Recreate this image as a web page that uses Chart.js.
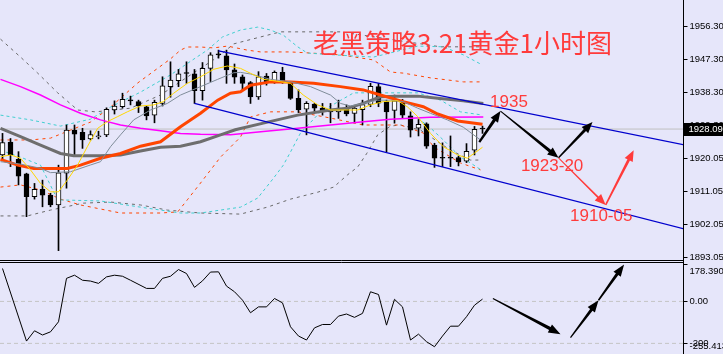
<!DOCTYPE html>
<html>
<head>
<meta charset="utf-8">
<script src="https://cdn.jsdelivr.net/npm/chart.js@4.4.1/dist/chart.umd.min.js"></script>
<style>
html, body { margin: 0; padding: 0; background: #E6E6FA; overflow: hidden; }
#wrap { position: relative; width: 723px; height: 354px; }
canvas { position: absolute; left: 0; display: block; }
#main { top: 0; }
#sub { top: 261px; }
</style>
</head>
<body>
<div id="wrap">
  <canvas id="main" width="723" height="261"></canvas>
  <canvas id="sub" width="723" height="94"></canvas>
</div>
<script>
// candles, one per hour, index 0..60
const opens  = [1921.0,1924.5,1919.8,1915.8,1909.6,1911.6,1910.0,1907.3,1916.0,1927.8,
                1927.2,1925.4,1925.9,1926.5,1933.3,1934.2,1935.8,1935.6,1934.2,1931.9,
                1935.1,1939.7,1941.3,1943.3,1943.2,1938.6,1944.7,1948.4,1948.1,1944.3,
                1942.4,1940.8,1936.9,1942.6,1940.8,1943.6,1940.8,1936.5,1933.5,1934.9,
                1933.8,1932.8,1932.8,1933.8,1932.4,1933.4,1934.8,1939.7,1935.6,1933.2,
                1935.6,1931.7,1928.3,1929.5,1923.7,1920.1,1920.1,1920.3,1919.3,1922.3,
                1928.09];
const highs  = [1926.9,1925.5,1921.9,1916.0,1913.2,1914.1,1910.5,1918.2,1929.2,1929.2,
                1928.3,1927.6,1927.5,1933.9,1935.8,1937.9,1937.1,1936.0,1934.4,1936.0,
                1942.4,1946.5,1944.4,1946.5,1944.4,1946.3,1949.0,1949.7,1949.7,1945.9,
                1942.9,1941.1,1943.8,1943.3,1944.0,1945.0,1941.1,1938.8,1935.6,1935.1,
                1935.1,1935.1,1936.0,1934.7,1934.4,1936.0,1940.6,1940.6,1936.0,1937.4,
                1936.2,1932.8,1930.7,1929.8,1924.2,1924.3,1926.2,1920.7,1924.1,1928.8,
                1928.9];
const lows   = [1919.9,1917.8,1912.8,1904.1,1908.9,1906.8,1906.8,1894.8,1911.9,1921.0,
                1922.8,1925.1,1925.4,1926.0,1932.2,1933.8,1934.7,1932.6,1930.6,1929.8,
                1934.4,1936.8,1939.7,1940.6,1935.1,1936.0,1941.1,1947.5,1940.6,1940.6,
                1938.8,1935.1,1936.2,1940.1,1940.6,1940.6,1936.2,1932.6,1926.5,1932.6,
                1931.9,1929.8,1931.0,1931.7,1929.8,1929.2,1934.2,1934.2,1921.9,1929.7,
                1931.0,1925.9,1926.2,1922.8,1917.6,1917.8,1917.8,1918.0,1918.9,1921.0,
                1926.9];
const closes = [1924.4,1921.0,1915.2,1909.6,1911.6,1910.0,1907.3,1916.1,1927.8,1926.7,
                1925.1,1926.6,1926.2,1933.5,1934.4,1936.2,1935.8,1934.4,1931.7,1935.4,
                1939.9,1941.5,1943.2,1943.3,1938.6,1944.7,1948.4,1948.4,1944.3,1942.3,
                1940.6,1936.9,1942.4,1940.8,1943.6,1941.1,1936.5,1933.3,1935.1,1933.8,
                1932.8,1932.8,1933.8,1932.2,1933.8,1934.8,1939.8,1935.2,1932.8,1935.8,
                1931.9,1927.8,1929.4,1923.4,1920.1,1920.1,1920.1,1919.1,1922.0,1928.0,
                1928.09];

// moving averages as [bar index, price]
const maFast = [[-0.25,1920.5],[1,1921.0],[2.25,1920.1],[3.5,1916.9],[4.75,1913.2],[6,1910.9],[7,1910.9],
  [8.1,1914.1],[9.4,1918.25],[10.6,1923.25],[11.9,1928.3],[13.1,1930.1],[14.4,1931.5],[15.6,1932.8],
  [17.25,1934.4],[18.9,1934.7],[20.1,1935.6],[21.4,1937.9],[23.1,1940.6],[24.75,1942.4],[26.4,1944.45],
  [28.1,1945.35],[29.75,1944.7],[31,1943.35],[32.6,1941.7],[34.75,1941.05],[36,1940.6],[37.6,1937.4],
  [39.4,1934.7],[41,1933.3],[44.4,1933.3],[46,1934.7],[47.6,1935.6],[49.4,1935.85],[50.6,1934.2],
  [51.9,1931.5],[53.5,1926.9],[55.1,1923.25],[56.9,1921.0],[58.1,1920.1],[59,1921.5],[60,1923.1]];
const maThin = [[-0.25,1919.15],[2.25,1918.5],[4.75,1917.35],[6,1916.15],[8.5,1916.4],[11,1918.25],
  [12.25,1919.15],[13.5,1923.25],[14.75,1926.5],[16.4,1930.6],[18.5,1933.3],[20.6,1935.1],[22.25,1937.4],
  [24.75,1939.7],[26.9,1941.7],[28.9,1943.5],[29.75,1943.6],[31,1943.16],[33.5,1941.7],[36,1941.05],
  [38.5,1939.7],[41,1937.4],[42.25,1935.1],[43.5,1934.4],[45.1,1935.1],[46.9,1936.0],[48.5,1936.0],
  [50.1,1935.6],[51.9,1933.8],[53.5,1932.4],[55.6,1930.6],[57.6,1928.6],[59.75,1925.1]];
const maOrange = [[-0.25,1919.8],[1.9,1918.2],[3.9,1917.3],[8.1,1917.3],[9.75,1918.2],[12.25,1920.1],
  [14.75,1921.4],[17.25,1923.4],[19.75,1924.6],[22.25,1928.7],[24.75,1932.4],[26.9,1936.0],[28.5,1937.9],
  [29.75,1938.3],[31,1940.1],[33.5,1941.0],[36,1941.0],[38.9,1940.6],[42.25,1939.7],[45.1,1938.8],
  [47.25,1937.4],[50.1,1935.6],[52.6,1934.2],[54.4,1932.2],[56.9,1930.3],[60,1929.4]];
const maGray = [[-0.25,1928.3],[2.25,1926.0],[4.75,1923.7],[7.25,1921.4],[8.9,1920.8],[12.25,1920.8],
  [14.75,1921.0],[17.25,1922.1],[19.75,1923.1],[22.25,1923.4],[24.75,1924.6],[27.25,1926.5],[29.1,1927.9],
  [32.6,1929.7],[36.9,1931.9],[41,1933.3],[43.1,1933.8],[45.1,1935.1],[47.25,1936.9],[49.4,1937.1],
  [51.9,1937.1],[54.4,1936.5],[57.6,1935.8],[60.1,1935.1]];
const maMagenta = [[-0.25,1941.7],[2.25,1939.7],[4.75,1937.4],[7.25,1934.7],[9.75,1932.4],[12.25,1930.6],
  [14.75,1929.2],[17.25,1928.3],[19.75,1927.6],[22.25,1926.9],[24.75,1926.65],[28.5,1926.5],[32.6,1927.4],
  [36.9,1928.3],[41,1929.2],[45.1,1930.1],[48.5,1930.8],[53.5,1931.3],[60.1,1931.4]];

// bands
const cyanUp = [[-0.25,1931.9],[3.5,1930.6],[7.25,1928.9],[11,1930.8],[13.5,1934.1],[17.25,1938.2],[21,1942.9],
  [23.75,1947.0],[25.6,1949.7],[27.5,1953.3],[29.75,1955.2],[31.9,1956.0],[33.5,1955.2],[35.1,1953.8],
  [36.9,1950.6],[38.1,1948.9],[41.4,1948.4],[46.4,1947.8],[51.9,1950.8],[55.1,1950.6],[57.6,1948.4],[59.75,1945.9]];
const cyanLow = [[-0.25,1922.3],[2.25,1920.4],[4.75,1918.2],[6.9,1908.7],[12.25,1908.4],[17.25,1906.7],
  [22.25,1905.1],[24.75,1905.1],[29.75,1906.7],[31.9,1909.2],[33.9,1914.7],[35.1,1918.2],[36,1921.8],
  [37.25,1927.0],[39.75,1932.8],[43.9,1938.0],[51.9,1938.0],[54.75,1936.0],[57.25,1932.8],[59.75,1932.0]];
const cyanTail = [[51.9,1931.1],[53.5,1928.4],[55.1,1925.1],[57.25,1920.4],[58.5,1918.8],[59.75,1917.0]];
const grayUp = [[-0.25,1952.7],[2.25,1947.8],[4.4,1943.4],[6.9,1938.0],[9.4,1933.3],[11.6,1932.8],[16,1933.8],
  [19.75,1937.4],[23.5,1942.9],[26.9,1947.8],[28.9,1951.4],[32.25,1953.3],[34.75,1954.7],[42.25,1954.7],
  [54.75,1950.6],[59.75,1950.6]];
const grayLow = [[-0.25,1904.3],[3.1,1904.3],[6,1905.9],[10.1,1907.8],[13.5,1908.1],[17.25,1907.3],[20.6,1905.9],
  [24.75,1905.1],[29.75,1904.8],[33.1,1906.7],[36,1908.9],[39.4,1910.8],[41.4,1912.2],[43.1,1915.5],
  [44.4,1917.7],[45.5,1921.3],[46.9,1926.5],[48.5,1928.9],[49.75,1929.2],[52.25,1927.8],[56,1922.3],
  [58.5,1919.6],[59.75,1919.6]];
const orangeUp = [[-0.25,1925.1],[3.5,1925.1],[6,1925.6],[8.5,1927.8],[11,1930.0],[13.5,1934.1],[16.9,1940.7],
  [21,1947.3],[22.25,1949.7],[23.1,1950.55],[24.75,1950.55],[26.4,1950.3],[28.1,1950.8],[30.6,1949.7],
  [32.25,1949.2],[36,1949.2],[38.5,1948.9],[42.25,1948.4],[46.4,1947.0],[48.5,1943.7],[50.1,1943.4],
  [53.5,1942.1],[57.6,1941.0],[59.75,1941.0]];
const orangeLow = [[-0.25,1912.2],[2.25,1912.8],[4.75,1911.4],[7.25,1908.9],[9.75,1907.3],[14.75,1905.1],
  [19.75,1905.1],[21.9,1905.4],[23.1,1908.7],[24.75,1913.3],[27.25,1920.4],[29.75,1925.9],[31,1931.4],
  [33.5,1932.8],[36.9,1932.8],[41,1931.1],[45.1,1929.2],[49.75,1929.2],[52.6,1927.0],[53.9,1923.2],
  [57.25,1918.8],[59.75,1916.9]];

// drawn channel
const channelUp = [[27,1949.5],[85.1,1923.8]];
const channelLow = [[24,1935.1],[85.1,1900.8]];

// oscillator (bottom window)
const cciIdx = [0,3,4,5,6,7,8,9,10,11,12,13,14,15,16,18,19,20,21,22,23,24,25,26,27,28,29,30,31,32,
                33,34,35,36,37,38,39,40,41,42,43,44,45,46,47,48,49,50,51,52,53,54,55,56,57,58,59,60];
const cciVal = [157,-189,-140,-160,-145,-97,110,125,101,97,86,117,125,120,101,62,62,110,120,152,
                133,67,98,140,141,73,46,6,-54,-26,-26,14,-7,-121,-165,-184,-126,-110,-110,-70,
                -60,-76,-57,46,33,-113,10,-26,-184,-156,-192,-216,-165,-118,-118,-73,-18,11];
const cciLevels = [0, -200];

// axis labels
const priceTicks = [1956.30, 1947.30, 1938.30, 1929.30, 1920.05, 1911.05, 1902.05, 1893.05];
const cciTicks = [178.3905, 0, -200, -255.413];
const cciTickText = ['178.3905', '0.00', '-200', '-255.413'];

// annotations
const title = '老黑策略3.21黄金1小时图';
const levelTexts = [
  { text: '1935', at: [60.94, 1934.0] },
  { text: '1923-20', at: [64.8, 1916.6] },
  { text: '1910-05', at: [70.94, 1902.9] }
];
const topArrows = [
  { from: [59.6, 1924.5], to: [62.25, 1933.0], color: '#000', w0: 1.1, w1: 1.6 },
  { from: [62.25, 1933.0], to: [69.5, 1920.2], color: '#000', w0: 0.5, w1: 1.6 },
  { from: [69.5, 1920.2], to: [73.75, 1930.0], color: '#000', w0: 0.7, w1: 1.5 },
  { from: [69.5, 1920.2], to: [75.4, 1907.3], color: '#ff3b3b', w0: 0.5, w1: 0.9 },
  { from: [75.4, 1907.3], to: [78.9, 1922.3], color: '#ff3b3b', w0: 0.8, w1: 1.4 }
];
const subArrows = [
  { from: [61.3, 14], to: [69.75, -156], w0: 0.6, w1: 1.7 },
  { from: [71, -173], to: [74.5, 6], w0: 0.6, w1: 1.5 },
  { from: [74.5, 6], to: [77.7, 176], w0: 0.8, w1: 1.5 }
];

const xMin = -0.3125, xMax = 85.0625;
const priceMin = 1891.96, priceMax = 1963.42;
const lastPrice = closes[closes.length - 1];
const axisFont = '9.5px "Liberation Sans"';

function line(pts, color, width, dash, order) {
  return {
    type: 'line',
    data: pts.map(p => ({ x: p[0], y: p[1] })),
    borderColor: color, borderWidth: width, borderDash: dash || [],
    pointRadius: 0, fill: false, tension: 0, order: order
  };
}

function drawArrow(ctx, x1, y1, x2, y2, color, w0, w1, hl, hw) {
  const a = Math.atan2(y2 - y1, x2 - x1), c = Math.cos(a), s = Math.sin(a);
  const bx = x2 - hl * c, by = y2 - hl * s;
  ctx.fillStyle = color;
  ctx.beginPath();
  ctx.moveTo(x1 - w0 * s, y1 + w0 * c);
  ctx.lineTo(bx - w1 * s, by + w1 * c);
  ctx.lineTo(bx - hw * s, by + hw * c);
  ctx.lineTo(x2, y2);
  ctx.lineTo(bx + hw * s, by - hw * c);
  ctx.lineTo(bx + w1 * s, by - w1 * c);
  ctx.lineTo(x1 + w0 * s, y1 - w0 * c);
  ctx.closePath();
  ctx.fill();
}

const mainOverlay = {
  id: 'mainOverlay',
  afterDraw(chart) {
    const { ctx, chartArea } = chart;
    const x = chart.scales.x, y = chart.scales.y;
    const px = v => x.getPixelForValue(v), py = v => y.getPixelForValue(v);
    ctx.save();

    topArrows.forEach(a => drawArrow(ctx, px(a.from[0]), py(a.from[1]), px(a.to[0]), py(a.to[1]),
      a.color, a.w0, a.w1, 11, 4.5));

    ctx.fillStyle = '#ff3b3b';
    ctx.textAlign = 'left';
    ctx.textBaseline = 'alphabetic';
    ctx.font = '17px "Liberation Sans"';
    levelTexts.forEach(t => ctx.fillText(t.text, px(t.at[0]), py(t.at[1])));

    ctx.font = '26px "Noto Sans CJK SC"';
    ctx.fillText(title, 313, 53);

    // right price axis
    const ax = chartArea.right + 0.5;
    ctx.strokeStyle = '#000';
    ctx.lineWidth = 1;
    ctx.beginPath();
    ctx.moveTo(ax, 0); ctx.lineTo(ax, chart.height);
    ctx.moveTo(0, chart.height - 0.5); ctx.lineTo(ax, chart.height - 0.5);
    ctx.stroke();
    ctx.font = axisFont;
    ctx.fillStyle = '#000';
    ctx.textBaseline = 'middle';
    priceTicks.forEach(v => {
      const ty = Math.round(py(v)) + 0.5;
      ctx.beginPath(); ctx.moveTo(ax, ty); ctx.lineTo(ax + 4, ty); ctx.stroke();
      ctx.fillText(v.toFixed(2), ax + 6, ty);
    });

    // current price tag
    const ly = Math.round(py(lastPrice));
    ctx.fillStyle = '#000';
    ctx.fillRect(ax + 0.5, ly - 6, chart.width - ax, 13);
    ctx.fillStyle = '#fff';
    ctx.fillText(lastPrice.toFixed(2), ax + 5, ly + 0.5);
    ctx.restore();
  }
};

new Chart(document.getElementById('main'), {
  type: 'bar',
  data: {
    datasets: [
      line(channelUp, '#0000CD', 1.3, null, 5),
      line(channelLow, '#0000CD', 1.3, null, 5),
      line(maFast, '#FFD700', 1, null, 10),
      line(maThin, '#7F8C99', 1, null, 11),
      line(maOrange, '#FF4500', 3, null, 12),
      line(maGray, '#6E6E6E', 3, null, 13),
      line(maMagenta, '#FF00FF', 1.5, null, 14),
      {
        type: 'bar',
        data: closes.map((c, i) => ({ x: i, y: [opens[i], c] })),
        backgroundColor: closes.map((c, i) => c > opens[i] ? '#FFFFFF' : '#000000'),
        borderColor: '#000', borderWidth: 1, borderSkipped: false,
        barThickness: 5, minBarLength: 1, grouped: false, order: 20
      },
      {
        type: 'bar',
        data: highs.map((h, i) => ({ x: i, y: [lows[i], h] })),
        backgroundColor: '#000', borderWidth: 0,
        barThickness: 1, grouped: false, order: 21
      },
      line(cyanUp, '#40CFCF', 1, [3, 3], 30),
      line(cyanLow, '#40CFCF', 1, [3, 3], 30),
      line(cyanTail, '#40CFCF', 1, [3, 3], 30),
      line(orangeUp, '#FF4500', 1, [3, 4], 31),
      line(orangeLow, '#FF4500', 1, [3, 4], 31),
      line(grayUp, '#696969', 1, [3, 4], 32),
      line(grayLow, '#696969', 1, [3, 4], 32),
      line([[xMin, lastPrice], [xMax, lastPrice]], '#C0C0C0', 1, null, 40)
    ]
  },
  options: {
    responsive: false,
    animation: false,
    events: [],
    layout: { padding: { left: 0, right: 40, top: 0, bottom: 0 } },
    plugins: { legend: { display: false }, tooltip: { enabled: false } },
    scales: {
      x: { type: 'linear', min: xMin, max: xMax, offset: false, display: false },
      y: { type: 'linear', min: priceMin, max: priceMax, display: false }
    }
  },
  plugins: [mainOverlay]
});

const subOverlay = {
  id: 'subOverlay',
  afterDraw(chart) {
    const { ctx, chartArea } = chart;
    const x = chart.scales.x, y = chart.scales.y;
    const px = v => x.getPixelForValue(v), py = v => y.getPixelForValue(v);
    ctx.save();
    subArrows.forEach(a => drawArrow(ctx, px(a.from[0]), py(a.from[1]), px(a.to[0]), py(a.to[1]),
      '#000', a.w0, a.w1, 12, 4.5));

    const ax = chartArea.right + 0.5;
    ctx.strokeStyle = '#000';
    ctx.lineWidth = 1;
    ctx.beginPath();
    ctx.moveTo(ax, 0); ctx.lineTo(ax, chart.height);
    ctx.moveTo(0, 1.5); ctx.lineTo(ax, 1.5);
    ctx.stroke();
    ctx.font = axisFont;
    ctx.fillStyle = '#000';
    cciTicks.forEach((v, i) => {
      let ty = py(v);
      if (i === 0) { ctx.textBaseline = 'top'; ty += 2.5; }
      else if (i === cciTicks.length - 1) { ctx.textBaseline = 'bottom'; ty -= 4; }
      else { ctx.textBaseline = 'middle'; }
      const tk = Math.round(py(v)) + 0.5;
      ctx.beginPath(); ctx.moveTo(ax, tk); ctx.lineTo(ax + 4, tk); ctx.stroke();
      ctx.fillText(cciTickText[i], ax + 6, ty);
    });
    ctx.restore();
  }
};

new Chart(document.getElementById('sub'), {
  type: 'line',
  data: {
    datasets: [
      line(cciIdx.map((k, i) => [k, cciVal[i]]), '#000', 1, null, 1),
      ...cciLevels.map(v => line([[xMin, v], [xMax, v]], '#C4C4C4', 1, [4, 3], 5))
    ]
  },
  options: {
    responsive: false,
    animation: false,
    events: [],
    layout: { padding: { left: 0, right: 40, top: 3, bottom: 0 } },
    plugins: { legend: { display: false }, tooltip: { enabled: false } },
    scales: {
      x: { type: 'linear', min: xMin, max: xMax, display: false },
      y: { type: 'linear', min: cciTicks[3], max: cciTicks[0], display: false }
    }
  },
  plugins: [subOverlay]
});
</script>
</body>
</html>
